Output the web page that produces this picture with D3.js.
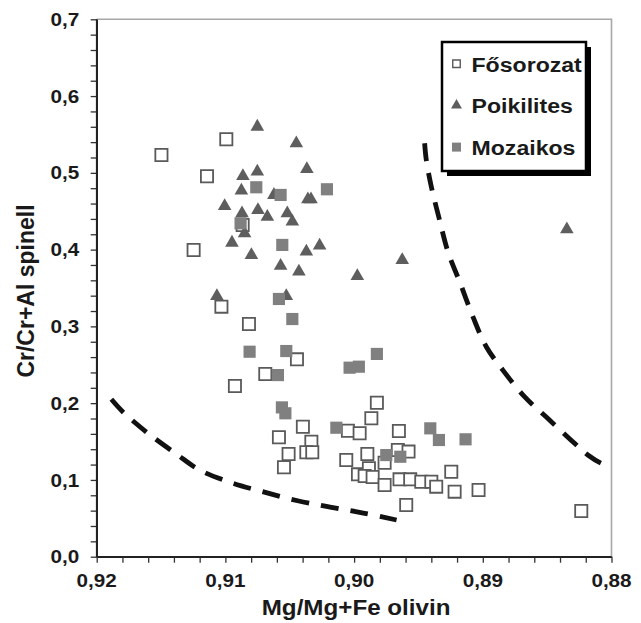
<!DOCTYPE html>
<html>
<head>
<meta charset="utf-8">
<script src="https://cdn.jsdelivr.net/npm/d3@7"></script>
<style>
  html, body { margin: 0; padding: 0; background: #fff; }
  svg { display: block; }
</style>
</head>
<body>
<svg id="chart" width="641" height="623"></svg>
<script>
// Olivine Mg-number vs. spinel Cr-number, three textural groups

const seriesNames = ["Fősorozat", "Poikilites", "Mozaikos"];

const xTickValues = [0.92, 0.91, 0.90, 0.89, 0.88];
const yTickValues = [0.0, 0.1, 0.2, 0.3, 0.4, 0.5, 0.6, 0.7];

const xTitle = "Mg/Mg+Fe olivin";
const yTitle = "Cr/Cr+Al spinell";

// Fősorozat (open squares)
const fosorozatX = [0.91497, 0.90993, 0.91143, 0.91247, 0.91031, 0.90817, 0.90866, 0.90444,
  0.90690, 0.90926, 0.89823, 0.89866, 0.90398, 0.90584, 0.90048, 0.89957, 0.90332, 0.90509,
  0.90371, 0.90325, 0.90545, 0.90061, 0.89897, 0.89970, 0.89885, 0.89918, 0.89652, 0.89763,
  0.89647, 0.89564, 0.89478, 0.89400, 0.89362, 0.89245, 0.89219, 0.89033, 0.89595, 0.88235,
  0.89660, 0.89577, 0.89856, 0.89763];
const fosorozatY = [0.5232, 0.5437, 0.4955, 0.3995, 0.3257, 0.3031, 0.4321, 0.2571,
  0.2380, 0.2224, 0.2006, 0.1803, 0.1693, 0.1556, 0.1641, 0.1608, 0.1498, 0.1338,
  0.1360, 0.1360, 0.1165, 0.1259, 0.1338, 0.1073, 0.1152, 0.1051, 0.1637, 0.1224,
  0.1008, 0.1008, 0.0977, 0.0977, 0.0912, 0.1107, 0.0847, 0.0869, 0.0673, 0.0595,
  0.1390, 0.1369, 0.1038, 0.0934];

// Poikilites (triangles)
const poikilitesX = [0.90752, 0.90449, 0.90367, 0.90864, 0.90752, 0.90876, 0.91006, 0.90871,
  0.90747, 0.90674, 0.90519, 0.90480, 0.90359, 0.90335, 0.90623, 0.90851, 0.90949, 0.90798,
  0.90371, 0.90268, 0.90571, 0.90429, 0.91066, 0.90527, 0.89975, 0.89626, 0.88347];
const poikilitesY = [0.5601, 0.5385, 0.5050, 0.4959, 0.5015, 0.4768, 0.4568, 0.4474,
  0.4516, 0.4428, 0.4474, 0.4364, 0.4655, 0.4655, 0.4712, 0.4212, 0.4090, 0.3930,
  0.3973, 0.4052, 0.3790, 0.3713, 0.3395, 0.3395, 0.3656, 0.3865, 0.4265];

// Mozaikos (filled squares)
const mozaikosX = [0.90760, 0.90571, 0.90211, 0.90882, 0.90558, 0.90584, 0.90480, 0.90812,
  0.90527, 0.90592, 0.89823, 0.90035, 0.89963, 0.90561, 0.90534, 0.90138, 0.89408, 0.89341,
  0.89134, 0.89750, 0.89641];
const mozaikosY = [0.4812, 0.4712, 0.4786, 0.4343, 0.4061, 0.3357, 0.3096, 0.2670,
  0.2679, 0.2366, 0.2641, 0.2462, 0.2475, 0.1945, 0.1868, 0.1680, 0.1672, 0.1520,
  0.1529, 0.1324, 0.1302];

// Hand-drawn field boundaries (dashed)
const lowerCurveX = [0.91886, 0.91798, 0.91604, 0.91381, 0.91200, 0.90954, 0.90711, 0.90439, 0.90177, 0.89918, 0.89670];
const lowerCurveY = [0.2050, 0.1889, 0.1611, 0.1338, 0.1129, 0.0964, 0.0847, 0.0729, 0.0643, 0.0565, 0.0478];
const upperCurveX = [0.89452, 0.89439, 0.89400, 0.89336, 0.89271, 0.89175, 0.89077, 0.88973, 0.88849, 0.88676, 0.88482, 0.88287, 0.88184, 0.88080, 0.88016];
const upperCurveY = [0.5385, 0.5167, 0.4820, 0.4386, 0.3973, 0.3561, 0.3126, 0.2735, 0.2441, 0.2084, 0.1781, 0.1477, 0.1325, 0.1217, 0.1181];

const zip = (xs, ys) => xs.map((v, i) => ({ x: v, y: ys[i] }));
const fosorozat = zip(fosorozatX, fosorozatY);
const poikilites = zip(poikilitesX, poikilitesY);
const mozaikos = zip(mozaikosX, mozaikosY);

const svg = d3.select("#chart");
const FONT = "'Liberation Sans', Arial, Helvetica, sans-serif";
const STRETCH = 1.1;

const plot = { left: 96.7, right: 611.5, top: 19.3, bottom: 556.7 };

const x = d3.scaleLinear().domain([0.92, 0.88]).range([plot.left, plot.right]);
const y = d3.scaleLinear().domain([0, 0.7]).range([plot.bottom, plot.top]);

const commaFmt = (f) => (d) => d3.format(f)(d).replace(".", ",");

// frame on top and right
svg.append("path")
  .attr("d", `M${plot.left},${plot.top}H${plot.right}V${plot.bottom}`)
  .attr("fill", "none")
  .attr("stroke", "#a8a8a8")
  .attr("stroke-width", 1.6);

// axes with minor ticks every 0.002 / 0.02
const xMinor = d3.range(0, 21).map(i => +(0.92 - i * 0.002).toFixed(3));
const yMinor = d3.range(0, 36).map(i => +(i * 0.02).toFixed(2));

const xAxis = svg.append("g")
  .attr("transform", `translate(0,${plot.bottom})`)
  .call(d3.axisBottom(x).tickValues(xMinor).tickSize(6).tickSizeOuter(0).tickFormat(""));
const yAxis = svg.append("g")
  .attr("transform", `translate(${plot.left},0)`)
  .call(d3.axisLeft(y).tickValues(yMinor).tickSize(6).tickSizeOuter(0).tickFormat(""));

[xAxis, yAxis].forEach(g => {
  g.select(".domain").attr("stroke", "#222").attr("stroke-width", 1.6);
  g.selectAll(".tick line").attr("stroke", "#333").attr("stroke-width", 1.3);
});
// extend axis lines to the corner
svg.append("path")
  .attr("d", `M${plot.left},${plot.top}V${plot.bottom}H${plot.right}`)
  .attr("fill", "none").attr("stroke", "#222").attr("stroke-width", 1.6);

// stretched bold text helper
function label(parent, px, py, txt, size, anchor, sx = STRETCH) {
  return parent.append("text")
    .attr("transform", `translate(${px},${py}) scale(${sx},1)`)
    .attr("text-anchor", anchor)
    .attr("font-family", FONT)
    .attr("font-weight", "bold")
    .attr("font-size", size)
    .attr("fill", "#1a1a1a")
    .text(txt);
}

const fx = commaFmt(".2f"), fy = commaFmt(".1f");
xTickValues.forEach(v => label(svg, x(v), 587, fx(v), 18.8, "middle"));
yTickValues.forEach(v => label(svg, 79.3, y(v) + 6.6, fy(v), 18.8, "end"));

// axis titles
label(svg, (plot.left + plot.right) / 2 + 2, 615, xTitle, 22, "middle");
svg.append("text")
  .attr("transform", `translate(34,${y(0.35) + 3}) rotate(-90)`)
  .attr("text-anchor", "middle")
  .attr("font-family", FONT)
  .attr("font-weight", "bold")
  .attr("font-size", 23)
  .attr("fill", "#1a1a1a")
  .text(yTitle);

// dashed boundaries
const line = d3.line().x(d => x(d.x)).y(d => y(d.y)).curve(d3.curveCatmullRom.alpha(0.5));
[zip(lowerCurveX, lowerCurveY), zip(upperCurveX, upperCurveY)].forEach(c => {
  svg.append("path")
    .attr("d", line(c))
    .attr("fill", "none")
    .attr("stroke", "#111")
    .attr("stroke-width", 4.8)
    .attr("stroke-dasharray", "18,12");
});

// markers
const squareSym = d3.symbol().type(d3.symbolSquare).size(148);
const triSym = d3.symbol().type(d3.symbolTriangle).size(80);

const COL_OPEN = "#5a5a5a", COL_TRI = "#5e5e5e", COL_FILL = "#808080";

svg.append("g").selectAll("path").data(fosorozat).join("path")
  .attr("d", squareSym)
  .attr("transform", d => `translate(${x(d.x)},${y(d.y)})`)
  .attr("fill", "#fff")
  .attr("stroke", COL_OPEN)
  .attr("stroke-width", 1.8);

svg.append("g").selectAll("path").data(poikilites).join("path")
  .attr("d", triSym)
  .attr("transform", d => `translate(${x(d.x)},${y(d.y)})`)
  .attr("fill", COL_TRI);

svg.append("g").selectAll("path").data(mozaikos).join("path")
  .attr("d", squareSym)
  .attr("transform", d => `translate(${x(d.x)},${y(d.y)})`)
  .attr("fill", COL_FILL);

// legend with drop shadow
const lg = svg.append("g");
const box = { x: 442, y: 42, w: 144, h: 129 };
lg.append("rect").attr("x", box.x + 5).attr("y", box.y + 5).attr("width", box.w).attr("height", box.h)
  .attr("fill", "#000");
lg.append("rect").attr("x", box.x).attr("y", box.y).attr("width", box.w).attr("height", box.h)
  .attr("fill", "#fff").attr("stroke", "#000").attr("stroke-width", 2.5);

const legendRows = [
  { name: seriesNames[0], sym: d3.symbol().type(d3.symbolSquare).size(56)(), fill: "#fff", stroke: COL_OPEN },
  { name: seriesNames[1], sym: d3.symbol().type(d3.symbolTriangle).size(52)(), fill: COL_TRI, stroke: "none" },
  { name: seriesNames[2], sym: d3.symbol().type(d3.symbolSquare).size(81)(), fill: COL_FILL, stroke: "none" }
];
legendRows.forEach((r, i) => {
  const by = 71.7 + i * 41.7;
  lg.append("path").attr("d", r.sym)
    .attr("transform", `translate(456.5,${by - 8})`)
    .attr("fill", r.fill).attr("stroke", r.stroke).attr("stroke-width", 1.4);
  label(lg, 471.5, by, r.name, 21, "start");
});
</script>
</body>
</html>
